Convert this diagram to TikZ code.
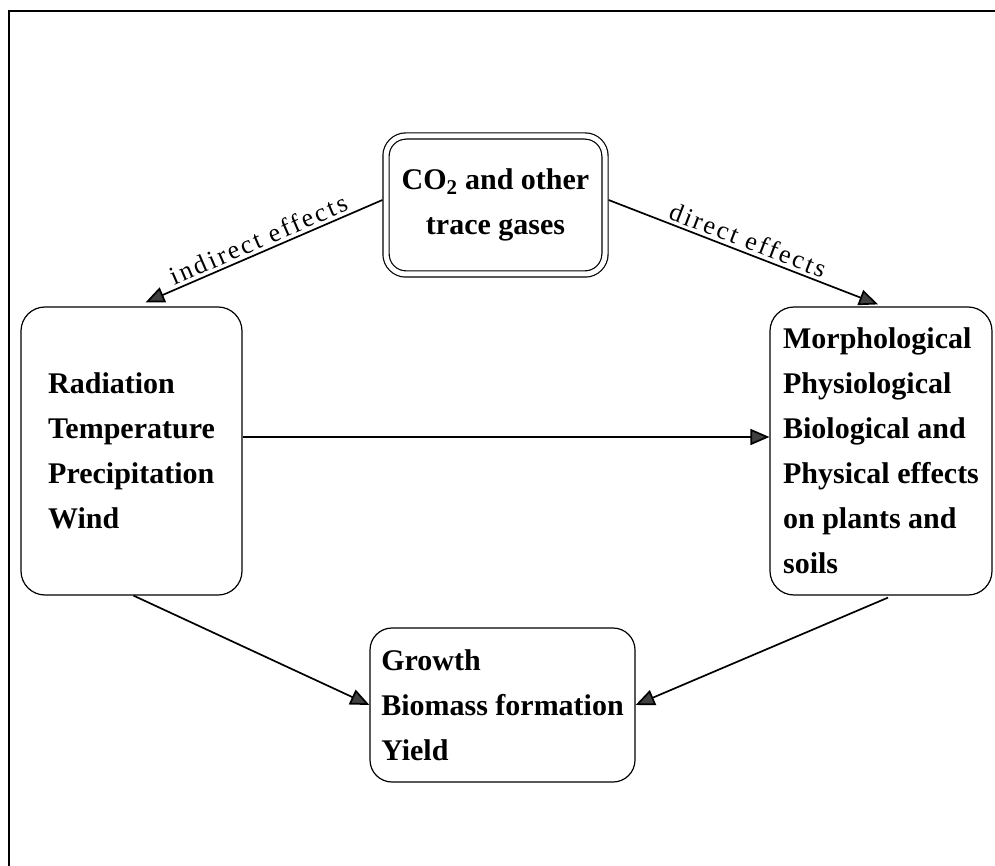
\documentclass[tikz,border=0pt]{standalone}
\usepackage{fontspec}
\setmainfont{Liberation Serif}
\newfontfamily\lblfont[LetterSpace=10]{Liberation Serif}
\usetikzlibrary{arrows.meta}
\begin{document}
\begin{tikzpicture}[x=1pt,y=1pt,
  box/.style={draw, line width=1.2pt, rounded corners=24pt, inner sep=0pt,
    font=\bfseries\fontsize{30}{45}\selectfont},
  conn/.style={line width=1.7pt, -{Triangle[length=19pt,width=16pt,fill=black!75]}},
  lbl/.style={font=\lblfont\fontsize{26}{30}\selectfont, sloped, above, midway, inner sep=3pt}]
\useasboundingbox (0,0) rectangle (995,-866);
% frame (top and left edges only)
\draw[line width=2.4pt] (9,-866) -- (9,-11) -- (995,-11);

\node[box, double, double distance=5pt, rounded corners=20pt,
      minimum width=219pt, minimum height=138pt, align=center]
  (co2) at (495.5,-205) {CO\textsubscript{2} and other\\trace gases};
\node[box, minimum width=221pt, minimum height=288pt, align=left]
  (env) at (131.5,-451) {Radiation\\Temperature\\Precipitation\\Wind};
\node[box, minimum width=222pt, minimum height=288pt, align=left]
  (eff) at (881,-451) {Morphological\\Physiological\\Biological and\\Physical effects\\on plants and\\soils};
\node[box, rounded corners=22pt, minimum width=265pt, minimum height=154pt, align=left]
  (out) at (502.5,-705) {Growth\\Biomass formation\\Yield};

\draw[conn] ([shift={(-3pt,5pt)}]co2.west) -- ([xshift=14pt,yshift=4pt]env.north)
  node[lbl] {indirect effects};
\draw[conn] ([shift={(3pt,5pt)}]co2.east) -- ([xshift=-3pt,yshift=2pt]eff.north)
  node[lbl] {direct effects};
\draw[conn] ([yshift=14pt]env.east) -- ([yshift=14pt]eff.west);
\draw[conn] ([xshift=2pt]env.south) -- (out.west);
\draw[conn] ([xshift=7pt,yshift=-2pt]eff.south) -- (out.east);
\end{tikzpicture}
\end{document}
